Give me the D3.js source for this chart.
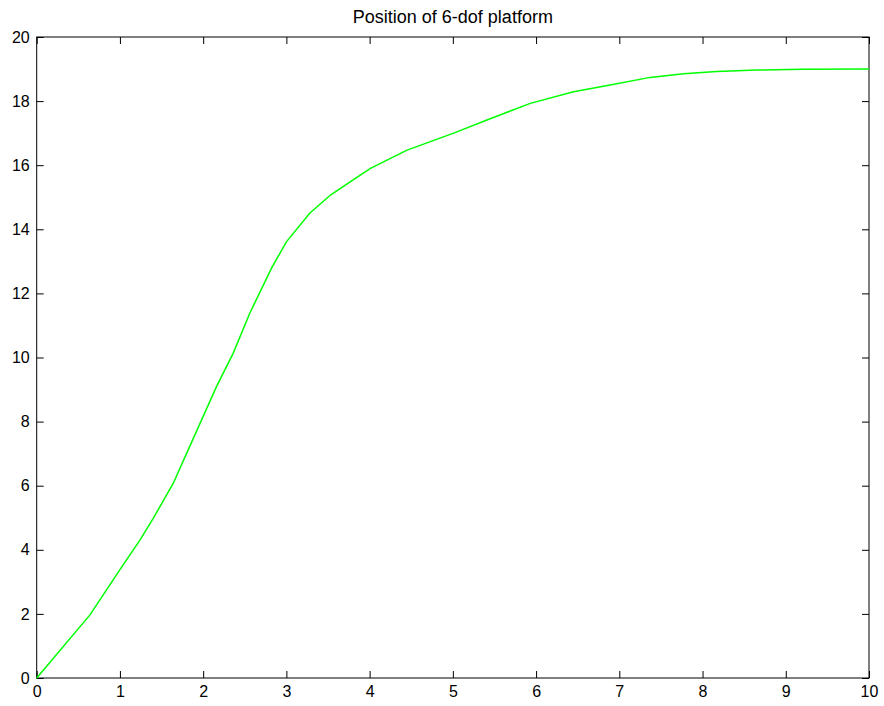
<!DOCTYPE html>
<html>
<head>
<meta charset="utf-8">
<script src="https://cdn.jsdelivr.net/npm/d3@7"></script>
<style>
  body { margin: 0; background: #fff; }
  text { font-family: "Liberation Sans", Arial, sans-serif; }
</style>
</head>
<body>
<script>
let title = "Position of 6-dof platform";
let xTicks = [0, 1, 2, 3, 4, 5, 6, 7, 8, 9, 10];
let yTicks = [0, 2, 4, 6, 8, 10, 12, 14, 16, 18, 20];

// values
let time = [0, 0.64, 1.0, 1.24, 1.4, 1.64, 1.8, 2.16, 2.36, 2.56, 2.82, 3.0, 3.28, 3.53, 3.77,
            4.01, 4.45, 5.01, 5.41, 5.93, 6.45, 6.89, 7.37, 7.77, 8.17, 8.65, 9.2, 10];
let position = [0, 1.97, 3.38, 4.3, 4.98, 6.07, 7.0, 9.09, 10.13, 11.38, 12.78, 13.61, 14.5, 15.07, 15.49,
                15.9, 16.47, 17.0, 17.41, 17.93, 18.29, 18.5, 18.74, 18.85, 18.92, 18.97, 18.99, 19.0];

let width = 884, height = 706;
let plotLeft = 36.7, plotRight = 869, plotTop = 37, plotBottom = 678;

let svg = d3.select("body").append("svg")
    .attr("width", width)
    .attr("height", height);

let x = d3.scaleLinear().domain([0, 10]).range([plotLeft, plotRight]);
let y = d3.scaleLinear().domain([0, 20]).range([plotBottom, plotTop]);

let tickLen = 7;

function styleAxis(g) {
    g.selectAll(".domain").remove();
    g.selectAll("line").attr("stroke", "#000");
    g.selectAll("text").attr("fill", "#000").style("font-size", "16px");
}

svg.append("g")
    .attr("transform", `translate(0, ${plotBottom})`)
    .call(d3.axisBottom(x).tickValues(xTicks).tickSizeInner(-tickLen).tickSizeOuter(0).tickPadding(8))
    .call(styleAxis);

svg.append("g")
    .attr("transform", `translate(0, ${plotTop})`)
    .call(d3.axisTop(x).tickValues(xTicks).tickSizeInner(-tickLen).tickSizeOuter(0).tickFormat(""))
    .call(styleAxis);

svg.append("g")
    .attr("transform", `translate(${plotLeft}, 0)`)
    .call(d3.axisLeft(y).tickValues(yTicks).tickSizeInner(-tickLen).tickSizeOuter(0).tickPadding(7))
    .call(styleAxis);

svg.append("g")
    .attr("transform", `translate(${plotRight}, 0)`)
    .call(d3.axisRight(y).tickValues(yTicks).tickSizeInner(-tickLen).tickSizeOuter(0).tickFormat(""))
    .call(styleAxis);

svg.append("rect")
    .attr("x", plotLeft).attr("y", plotTop)
    .attr("width", plotRight - plotLeft).attr("height", plotBottom - plotTop)
    .attr("fill", "none").attr("stroke", "#000").attr("stroke-width", 1);

let line = d3.line()
    .x((d, i) => x(time[i]))
    .y((d) => y(d));

svg.append("path")
    .datum(position)
    .attr("d", line)
    .attr("fill", "none")
    .attr("stroke", "#00ff00")
    .attr("stroke-width", 1.5);

svg.append("text")
    .attr("x", (plotLeft + plotRight) / 2)
    .attr("y", 23)
    .attr("text-anchor", "middle")
    .style("font-size", "18px")
    .text(title);
</script>
</body>
</html>
